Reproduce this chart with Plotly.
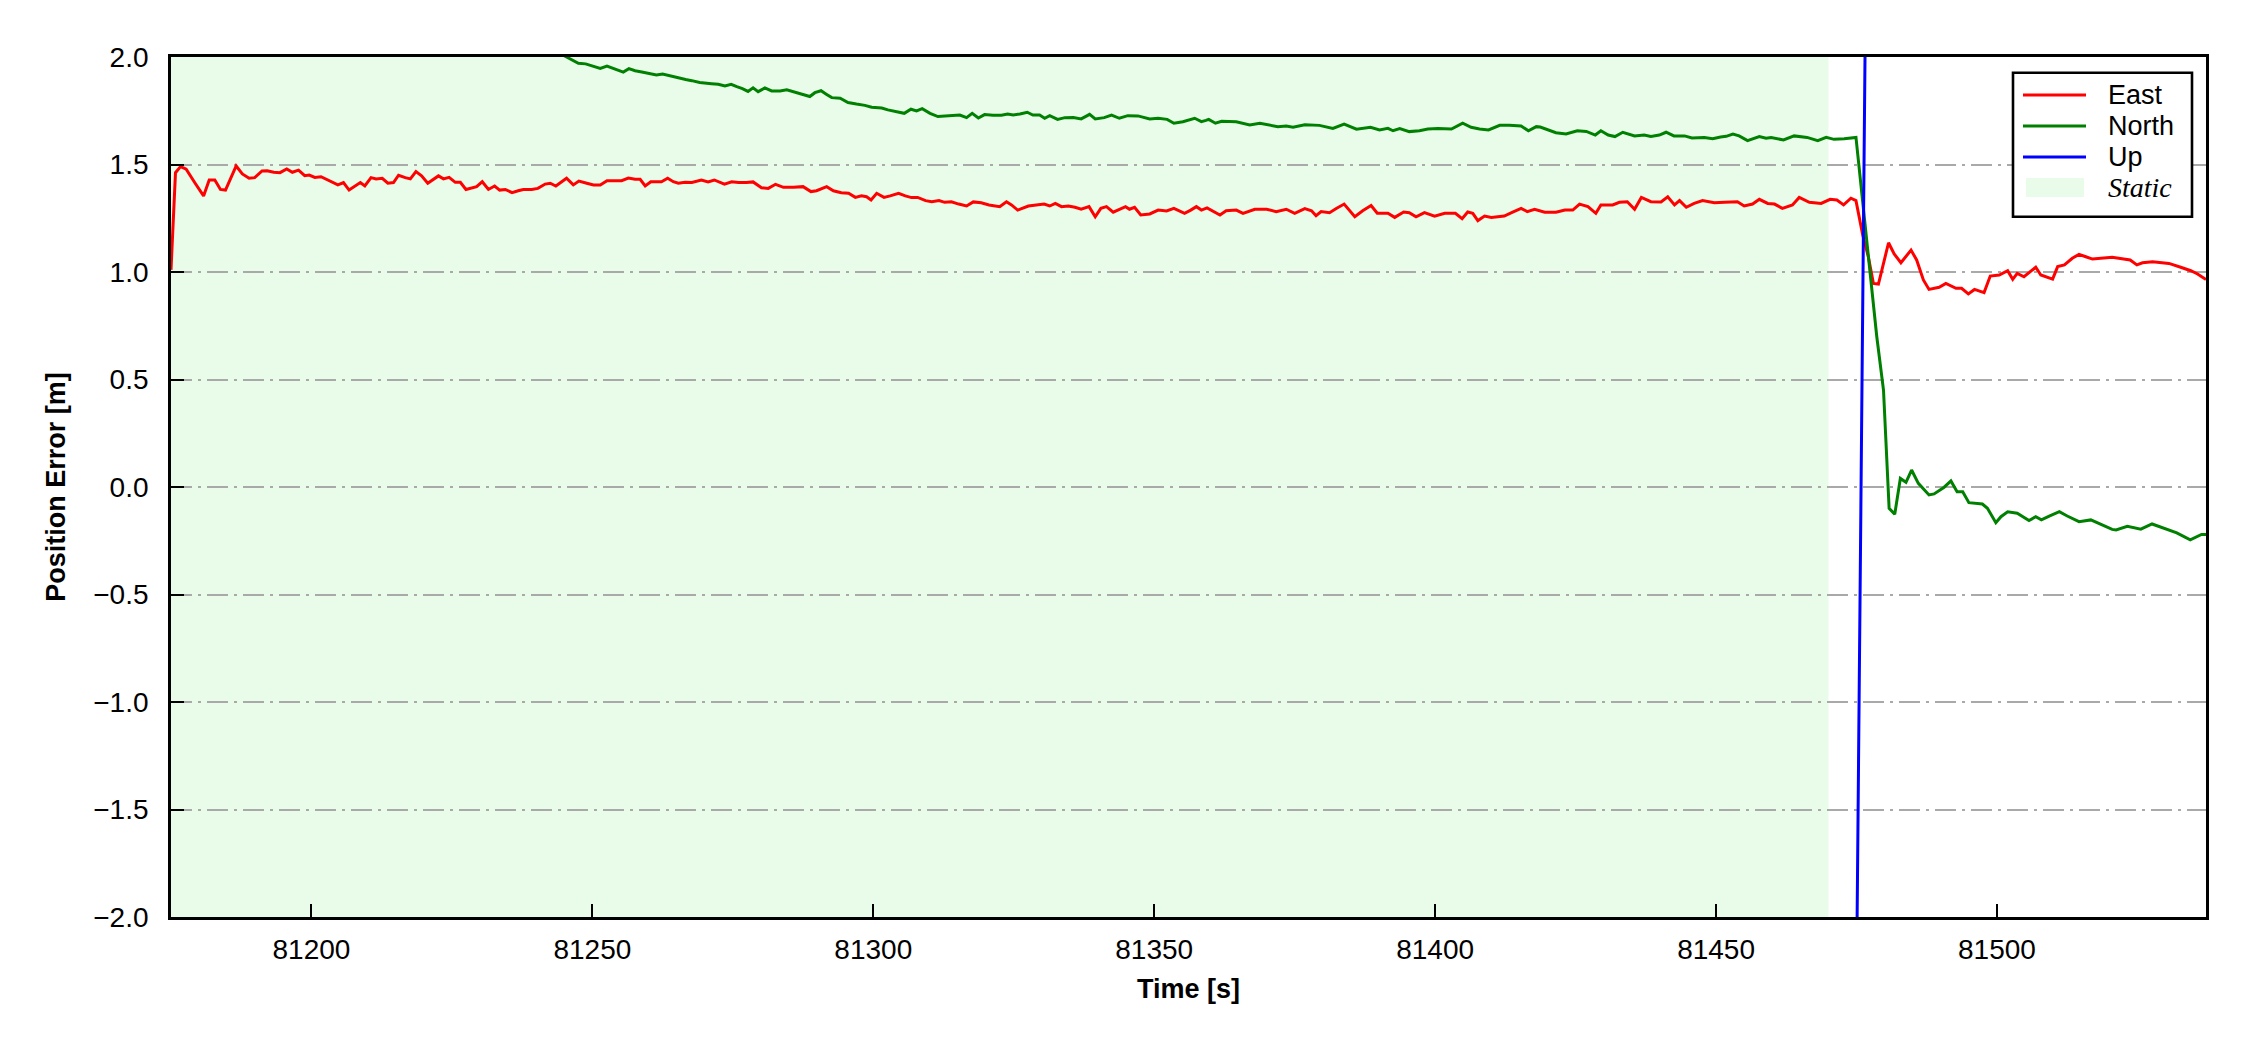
import plotly.graph_objects as go

# Position error of the filter solution (1 Hz)
EAST_T = [
    81175.0, 81175.8, 81176.7, 81177.7, 81179.3, 81180.8, 81181.8, 81182.8, 81183.8, 81184.7,
    81186.6, 81187.7, 81188.9, 81189.9, 81191.2, 81192.1, 81193.3, 81194.4, 81195.6, 81196.6,
    81197.7, 81198.8, 81199.6, 81200.6, 81201.7, 81203.0, 81204.7, 81205.7, 81206.7, 81208.7,
    81209.5, 81210.6, 81211.5, 81212.6, 81213.6, 81214.6, 81215.5, 81216.7, 81217.6, 81218.6,
    81219.6, 81220.7, 81221.7, 81222.6, 81223.5, 81224.5, 81225.6, 81226.5, 81227.5, 81228.5,
    81229.4, 81230.4, 81231.5, 81232.6, 81233.5, 81234.5, 81235.7, 81236.8, 81237.7, 81239.2,
    81240.3, 81241.6, 81242.5, 81243.5, 81245.4, 81246.6, 81247.6, 81249.0, 81250.2, 81251.4,
    81252.6, 81255.2, 81256.4, 81257.6, 81258.5, 81259.4, 81260.4, 81262.3, 81263.4, 81264.4,
    81265.3, 81266.5, 81267.7, 81269.4, 81270.6, 81271.7, 81273.5, 81274.8, 81276.0, 81277.4,
    81278.6, 81280.1, 81281.3, 81282.6, 81284.0, 81285.8, 81287.5, 81288.9, 81289.9, 81291.7,
    81292.9, 81294.3, 81295.6, 81296.8, 81297.9, 81298.8, 81299.6, 81300.6, 81301.9, 81303.0,
    81304.5, 81305.7, 81306.8, 81307.9, 81309.3, 81310.4, 81311.7, 81312.7, 81313.9, 81315.2,
    81316.6, 81317.8, 81319.2, 81320.6, 81322.5, 81323.7, 81324.6, 81325.7, 81327.6, 81329.0,
    81330.4, 81331.4, 81332.4, 81333.5, 81334.7, 81335.9, 81337.0, 81338.4, 81339.5, 81340.5,
    81341.5, 81342.7, 81343.6, 81344.9, 81345.6, 81346.5, 81347.6, 81349.2, 81350.7, 81352.2,
    81353.5, 81354.5, 81355.4, 81356.5, 81357.5, 81358.4, 81359.4, 81361.7, 81362.8, 81364.6,
    81365.8, 81367.9, 81370.0, 81371.7, 81373.5, 81375.0, 81376.8, 81378.0, 81378.8, 81379.7,
    81381.2, 81382.4, 81383.8, 81385.7, 81387.1, 81388.6, 81389.7, 81391.6, 81392.8, 81394.4,
    81395.4, 81396.6, 81398.1, 81399.9, 81401.7, 81403.6, 81404.8, 81405.8, 81406.7, 81407.6,
    81408.8, 81410.0, 81412.3, 81413.8, 81415.3, 81416.4, 81417.7, 81419.5, 81421.5, 81423.1,
    81424.5, 81425.7, 81427.2, 81428.6, 81429.5, 81431.6, 81432.8, 81434.2, 81435.5, 81436.7,
    81438.4, 81440.2, 81441.4, 81442.6, 81443.5, 81444.7, 81446.1, 81447.6, 81449.7, 81451.5,
    81453.8, 81455.0, 81456.5, 81457.7, 81459.2, 81460.4, 81461.8, 81463.6, 81464.8, 81466.6,
    81468.7, 81470.3, 81471.5, 81472.7, 81474.0, 81474.9, 81476.1, 81477.1, 81478.0, 81478.9,
    81479.8, 81480.7, 81481.7, 81482.9, 81484.7, 81485.7, 81486.9, 81487.9, 81489.7, 81490.9,
    81492.7, 81493.7, 81494.9, 81496.0, 81497.7, 81498.8, 81500.4, 81501.9, 81502.8, 81503.6,
    81504.8, 81506.9, 81507.8, 81509.9, 81510.8, 81512.0, 81513.4, 81514.6, 81515.8, 81517.0,
    81520.5, 81523.7, 81524.9, 81525.9, 81527.7, 81530.6, 81532.7, 81534.5, 81535.7, 81536.7,
    81537.2,
]
EAST_V = [
    1.010, 1.462, 1.490, 1.478, 1.413, 1.354, 1.428, 1.428, 1.384, 1.381,
    1.493, 1.456, 1.436, 1.439, 1.470, 1.471, 1.464, 1.462, 1.479, 1.464,
    1.474, 1.448, 1.451, 1.440, 1.443, 1.428, 1.405, 1.416, 1.381, 1.416,
    1.400, 1.439, 1.433, 1.436, 1.413, 1.416, 1.450, 1.439, 1.433, 1.467,
    1.447, 1.413, 1.431, 1.447, 1.433, 1.440, 1.417, 1.417, 1.384, 1.392,
    1.397, 1.420, 1.384, 1.400, 1.381, 1.384, 1.369, 1.378, 1.384, 1.384,
    1.389, 1.409, 1.413, 1.400, 1.436, 1.405, 1.423, 1.413, 1.405, 1.405,
    1.425, 1.425, 1.437, 1.431, 1.431, 1.400, 1.420, 1.420, 1.436, 1.420,
    1.413, 1.417, 1.416, 1.428, 1.419, 1.428, 1.409, 1.420, 1.416, 1.416,
    1.419, 1.392, 1.389, 1.408, 1.394, 1.394, 1.397, 1.374, 1.378, 1.397,
    1.378, 1.369, 1.366, 1.347, 1.355, 1.350, 1.335, 1.366, 1.347, 1.354,
    1.366, 1.354, 1.346, 1.347, 1.332, 1.327, 1.332, 1.324, 1.327, 1.316,
    1.307, 1.326, 1.322, 1.312, 1.304, 1.327, 1.312, 1.288, 1.307, 1.312,
    1.316, 1.307, 1.319, 1.304, 1.307, 1.301, 1.292, 1.304, 1.257, 1.296,
    1.304, 1.278, 1.288, 1.304, 1.292, 1.301, 1.265, 1.270, 1.288, 1.284,
    1.296, 1.284, 1.273, 1.288, 1.304, 1.288, 1.298, 1.265, 1.285, 1.288,
    1.273, 1.292, 1.292, 1.281, 1.292, 1.273, 1.295, 1.285, 1.262, 1.281,
    1.276, 1.295, 1.316, 1.257, 1.285, 1.309, 1.273, 1.273, 1.254, 1.279,
    1.276, 1.257, 1.276, 1.260, 1.273, 1.273, 1.248, 1.279, 1.273, 1.239,
    1.260, 1.254, 1.260, 1.278, 1.296, 1.281, 1.292, 1.278, 1.278, 1.288,
    1.288, 1.316, 1.304, 1.273, 1.312, 1.312, 1.324, 1.327, 1.292, 1.347,
    1.327, 1.326, 1.350, 1.312, 1.332, 1.301, 1.319, 1.332, 1.322, 1.325,
    1.327, 1.307, 1.316, 1.338, 1.319, 1.316, 1.296, 1.312, 1.347, 1.324,
    1.319, 1.338, 1.335, 1.312, 1.343, 1.332, 1.172, 1.071, 0.947, 0.944,
    1.040, 1.136, 1.084, 1.043, 1.102, 1.056, 0.963, 0.919, 0.929, 0.947,
    0.924, 0.924, 0.898, 0.919, 0.904, 0.981, 0.986, 1.006, 0.966, 0.994,
    0.978, 1.022, 0.986, 0.967, 1.025, 1.033, 1.064, 1.082, 1.071, 1.060,
    1.068, 1.056, 1.033, 1.043, 1.048, 1.040, 1.022, 1.006, 0.991, 0.971,
    0.965,
]

NORTH_T = [
    81175.0, 81210.0, 81235.0, 81243.0, 81245.4, 81247.5, 81248.8, 81250.0, 81251.4, 81252.6,
    81254.0, 81255.5, 81256.5, 81257.6, 81258.8, 81260.1, 81261.4, 81262.5, 81263.8, 81265.3,
    81266.6, 81267.7, 81269.1, 81271.2, 81272.4, 81273.6, 81274.7, 81275.7, 81276.7, 81277.7,
    81278.6, 81279.5, 81280.7, 81281.9, 81283.4, 81284.6, 81285.8, 81287.2, 81288.7, 81289.6,
    81290.7, 81291.7, 81292.6, 81294.1, 81295.5, 81297.0, 81298.5, 81299.7, 81301.5, 81302.6,
    81304.1, 81305.5, 81306.7, 81307.7, 81308.7, 81310.1, 81311.5, 81313.3, 81315.4, 81316.6,
    81317.6, 81318.7, 81319.8, 81321.3, 81322.8, 81323.9, 81324.9, 81326.1, 81327.4, 81328.4,
    81329.6, 81330.5, 81331.4, 81332.8, 81334.1, 81335.6, 81337.0, 81338.5, 81339.5, 81341.1,
    81342.4, 81343.8, 81345.3, 81347.1, 81349.2, 81350.7, 81352.3, 81353.5, 81355.1, 81357.2,
    81358.4, 81359.2, 81359.7, 81360.9, 81362.0, 81364.6, 81367.0, 81368.8, 81370.5, 81372.0,
    81373.5, 81374.7, 81376.8, 81379.4, 81381.8, 81383.8, 81386.0, 81388.5, 81390.1, 81391.6,
    81392.5, 81393.7, 81395.4, 81397.2, 81398.7, 81400.5, 81402.9, 81404.9, 81406.4, 81407.9,
    81409.5, 81411.5, 81413.2, 81415.3, 81416.6, 81418.0, 81418.7, 81420.0, 81421.5, 81423.3,
    81425.3, 81426.9, 81428.5, 81429.5, 81430.8, 81432.0, 81433.4, 81435.5, 81437.2, 81438.4,
    81439.9, 81441.1, 81442.5, 81444.4, 81445.7, 81447.9, 81449.4, 81450.8, 81451.8, 81453.0,
    81454.1, 81455.6, 81457.7, 81458.9, 81459.8, 81462.0, 81463.9, 81466.2, 81468.1, 81469.6,
    81471.0, 81472.8, 81474.9, 81478.6, 81479.8, 81480.8, 81481.8, 81482.8, 81483.8, 81484.8,
    81486.0, 81487.9, 81488.8, 81490.6, 81491.8, 81492.9, 81493.9, 81495.0, 81497.4, 81498.3,
    81499.8, 81500.7, 81501.9, 81503.6, 81505.7, 81506.9, 81507.9, 81509.3, 81511.1, 81512.5,
    81514.6, 81516.7, 81518.8, 81520.5, 81521.2, 81523.2, 81525.6, 81527.6, 81532.0, 81534.4,
    81536.4, 81537.2,
]
NORTH_V = [
    3.100, 2.450, 2.120, 2.035, 2.000, 1.971, 1.968, 1.958, 1.947, 1.958,
    1.944, 1.930, 1.946, 1.936, 1.930, 1.924, 1.916, 1.921, 1.912, 1.901,
    1.895, 1.890, 1.881, 1.876, 1.873, 1.865, 1.873, 1.862, 1.853, 1.840,
    1.857, 1.839, 1.856, 1.842, 1.842, 1.847, 1.837, 1.826, 1.816, 1.834,
    1.843, 1.826, 1.811, 1.808, 1.788, 1.781, 1.775, 1.766, 1.763, 1.754,
    1.746, 1.738, 1.757, 1.749, 1.760, 1.738, 1.723, 1.727, 1.730, 1.718,
    1.738, 1.716, 1.732, 1.729, 1.729, 1.735, 1.730, 1.735, 1.743, 1.730,
    1.730, 1.715, 1.727, 1.710, 1.718, 1.719, 1.712, 1.733, 1.712, 1.718,
    1.730, 1.715, 1.727, 1.726, 1.712, 1.715, 1.710, 1.692, 1.699, 1.715,
    1.699, 1.705, 1.710, 1.692, 1.701, 1.699, 1.684, 1.692, 1.684, 1.676,
    1.679, 1.673, 1.685, 1.682, 1.668, 1.688, 1.664, 1.673, 1.661, 1.668,
    1.657, 1.667, 1.653, 1.657, 1.665, 1.667, 1.665, 1.692, 1.673, 1.665,
    1.661, 1.682, 1.682, 1.679, 1.657, 1.676, 1.674, 1.661, 1.648, 1.642,
    1.657, 1.654, 1.637, 1.657, 1.637, 1.630, 1.650, 1.633, 1.637, 1.630,
    1.637, 1.650, 1.633, 1.633, 1.623, 1.626, 1.620, 1.628, 1.631, 1.642,
    1.633, 1.611, 1.630, 1.622, 1.626, 1.614, 1.633, 1.626, 1.611, 1.626,
    1.617, 1.620, 1.626, 0.700, 0.451, -0.099, -0.127, 0.040, 0.022, 0.079,
    0.017, -0.037, -0.032, -0.001, 0.028, -0.022, -0.022, -0.073, -0.079, -0.099,
    -0.166, -0.138, -0.115, -0.122, -0.156, -0.138, -0.153, -0.135, -0.115, -0.135,
    -0.161, -0.153, -0.177, -0.197, -0.200, -0.183, -0.196, -0.172, -0.213, -0.246,
    -0.221, -0.221,
]

# Up stays far outside the window except for the jump after the static phase
UP_T = [81175.0, 81300.0, 81420.0, 81475.0, 81477.0, 81500.0, 81537.2]
UP_V = [-9.0, -6.5, -4.0, -2.3, 3.4, 4.8, 5.5]

STATIC_SPAN = [81175.0, 81470.0]
X_RANGE = [81175.0, 81537.2]
Y_RANGE = [-2.0, 2.0]
X_TICKS = [81200, 81250, 81300, 81350, 81400, 81450, 81500]
Y_TICKS = [2.0, 1.5, 1.0, 0.5, 0.0, -0.5, -1.0, -1.5, -2.0]
Y_TICK_TEXT = ["2.0", "1.5", "1.0", "0.5", "0.0", "\u22120.5", "\u22121.0", "\u22121.5", "\u22122.0"]

SERIES = [
    ("East", EAST_T, EAST_V, "#ff0000"),
    ("North", NORTH_T, NORTH_V, "#008000"),
    ("Up", UP_T, UP_V, "#0000ff"),
]
STATIC_FILL = "rgba(144,238,144,0.2)"

# page body has an 8px margin, so the figure is a bit smaller than the window
PAGE_OFF = 8
W, H = 2242, 1042
M = dict(l=163, r=44, t=49, b=133)
SANS = "Liberation Sans, Arial, sans-serif"
SERIF = "Liberation Serif, Times New Roman, serif"


def px(x):
    # window pixel -> paper fraction
    return (x - PAGE_OFF - M["l"]) / (W - M["l"] - M["r"])


def py(y):
    return (H - M["b"] - (y - PAGE_OFF)) / (H - M["t"] - M["b"])


fig = go.Figure()

fig.add_vrect(x0=STATIC_SPAN[0], x1=STATIC_SPAN[1], fillcolor=STATIC_FILL,
              line_width=0, layer="below")

for name, t, v, color in SERIES:
    fig.add_trace(go.Scatter(
        x=t, y=v, mode="lines", name=name,
        line=dict(color=color, width=3),
        showlegend=False,
    ))

# matplotlib-style legend box, upper right
fig.add_shape(type="rect", xref="paper", yref="paper",
              x0=px(2013), x1=px(2192), y0=py(216.7), y1=py(72.7),
              fillcolor="white", line=dict(color="black", width=2.6), layer="above")
row_y = [95, 126, 157, 188]
for (name, _, _, color), yy in zip(SERIES, row_y):
    fig.add_shape(type="line", xref="paper", yref="paper",
                  x0=px(2023), x1=px(2086), y0=py(yy), y1=py(yy),
                  line=dict(color=color, width=3), layer="above")
    fig.add_annotation(xref="paper", yref="paper", x=px(2106), y=py(yy),
                       text=name, showarrow=False, xanchor="left", yanchor="middle",
                       font=dict(family=SANS, size=27, color="black"))
fig.add_shape(type="rect", xref="paper", yref="paper",
              x0=px(2026), x1=px(2084), y0=py(197), y1=py(178),
              fillcolor=STATIC_FILL, line_width=0, layer="above")
fig.add_annotation(xref="paper", yref="paper", x=px(2106), y=py(row_y[3]),
                   text="<i>Static</i>", showarrow=False, xanchor="left", yanchor="middle",
                   font=dict(family=SERIF, size=28, color="black"))

axis_common = dict(
    showline=True, linecolor="black", linewidth=2.7, mirror=True,
    ticks="inside", ticklen=13, tickwidth=2.4, tickcolor="black",
    tickfont=dict(family=SANS, size=28, color="black"),
    zeroline=False,
)

fig.update_layout(
    width=W, height=H,
    margin=M,
    paper_bgcolor="white",
    plot_bgcolor="white",
    showlegend=False,
    xaxis=dict(
        range=X_RANGE, tickvals=X_TICKS, tickformat="d",
        showgrid=False, ticklabelstandoff=6,
        title=dict(text="<b>Time [s]</b>", font=dict(family=SANS, size=27, color="black"),
                   standoff=15),
        **axis_common,
    ),
    yaxis=dict(
        range=Y_RANGE, tickvals=Y_TICKS, ticktext=Y_TICK_TEXT,
        showgrid=True, gridcolor="#a9a9a9", gridwidth=2, griddash="21px,6px,3px,6px",
        ticklabelstandoff=14,
        title=dict(text="<b>Position Error [m]</b>", font=dict(family=SANS, size=27, color="black"),
                   standoff=20),
        **axis_common,
    ),
)

fig.write_html("out.html")
